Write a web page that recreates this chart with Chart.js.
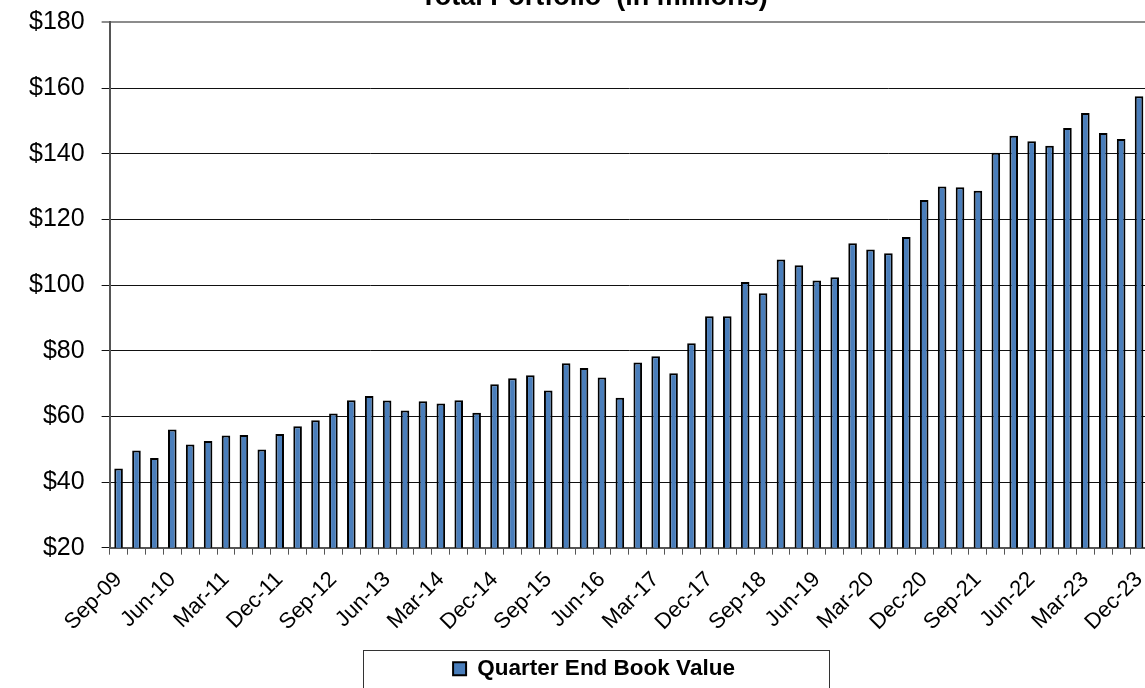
<!DOCTYPE html>
<html>
<head>
<meta charset="utf-8">
<script src="https://cdn.jsdelivr.net/npm/chart.js@4.4.1/dist/chart.umd.min.js"></script>
<style>
  html, body { margin: 0; padding: 0; overflow: hidden; background: #fff; }
  #wrap { position: absolute; left: 0; top: -19px; width: 1190px; height: 742px; }
</style>
</head>
<body>
<div id="wrap"><canvas id="myChart"></canvas></div>
<script>
// quarter labels, Sep-09 .. Dec-23
const months = ["Mar", "Jun", "Sep", "Dec"];
const quarters = [];
for (let y = 2009; y <= 2023; y++) {
	for (let m = 0; m < 4; m++) {
		if (y === 2009 && m < 2) continue;
		quarters.push(months[m] + "-" + String(y).slice(2));
	}
}

// book value at quarter end, $ millions
const bookValue = [
	44.1, 49.6, 47.3, 56.0, 51.4, 52.5, 54.2, 54.3, 49.9, 54.6,
	57.0, 58.8, 60.9, 64.9, 66.2, 64.8, 61.8, 64.6, 63.9, 64.9,
	61.1, 69.8, 71.6, 72.5, 67.9, 76.2, 74.7, 71.8, 65.7, 76.4,
	78.3, 73.1, 82.3, 90.5, 90.5, 100.9, 97.5, 107.8, 106.0, 101.4,
	102.4, 112.7, 110.8, 109.7, 114.6, 125.9, 130.0, 129.8, 128.7, 140.3,
	145.5, 143.8, 142.4, 147.8, 152.4, 146.3, 144.5, 157.5
];

const yTicks = [20, 40, 60, 80, 100, 120, 140, 160, 180];

const fontFamily = "'Liberation Sans', Arial, sans-serif";

// box round the legend, like the spreadsheet one
const legendFrame = {
	id: "legendFrame",
	afterDraw(chart) {
		const box = chart.legend.legendHitBoxes[0];
		if (!box) return;
		const ctx = chart.ctx;
		const cx = box.left + box.width / 2;
		const cy = box.top + box.height / 2;
		ctx.save();
		ctx.strokeStyle = "#333";
		ctx.lineWidth = 1;
		ctx.strokeRect(Math.round(cx - 231) + 0.5, Math.round(cy - 19) + 0.5, 466, 40);
		ctx.restore();
	},
};

new Chart(document.getElementById("myChart"), {
	type: "bar",
	data: {
		labels: quarters,
		datasets: [
			{
				label: "Quarter End Book Value",
				data: bookValue,
				backgroundColor: "#4a7ebb",
				borderColor: "#000",
				borderWidth: 2,
				barPercentage: 0.48,
				categoryPercentage: 1,
			},
		],
	},
	options: {
		responsive: true,
		maintainAspectRatio: false,
		animation: false,
		layout: {
			padding: { left: 12, right: 14, top: 0, bottom: 33 },
		},
		scales: {
			x: {
				grid: {
					display: true,
					drawOnChartArea: false,
					offset: true,
					tickLength: 7,
					color: "#555",
				},
				border: { color: "#555", width: 2 },
				ticks: {
					autoSkip: false,
					maxRotation: 45,
					minRotation: 45,
					padding: 12,
					color: "#000",
					font: { family: fontFamily, size: 22 },
					callback: function (v, i) {
						return i % 3 === 0 ? quarters[i] : "";
					},
				},
			},
			y: {
				min: 20,
				max: 180,
				afterBuildTicks: (axis) => {
					axis.ticks = yTicks.map((v) => ({ value: v }));
				},
				grid: {
					tickLength: 8,
					color: (c) => (c.tick && c.tick.value === 180 ? "#8c8c8c" : "#111"),
					lineWidth: (c) => (c.tick && c.tick.value === 180 ? 2 : 1),
				},
				border: { color: "#555", width: 2 },
				ticks: {
					padding: 17,
					color: "#000",
					font: { family: fontFamily, size: 25 },
					callback: (v) => "$" + v,
				},
			},
			// empty strip on the right (off screen) so title and legend sit where they did
			y2: {
				position: "right",
				grid: { display: false },
				border: { display: false },
				ticks: { display: false },
				afterFit: (axis) => {
					axis.width = 28;
				},
			},
		},
		plugins: {
			title: {
				display: true,
				text: "Total Portfolio  (in millions)",
				color: "#000",
				font: { family: fontFamily, size: 27, weight: "bold" },
				padding: { top: 0, bottom: 9 },
			},
			legend: {
				display: true,
				position: "bottom",
				labels: {
					color: "#000",
					boxWidth: 13,
					boxHeight: 13,
					padding: 10,
					font: { family: fontFamily, size: 22.5, weight: "bold" },
				},
			},
			tooltip: { enabled: false },
		},
	},
	plugins: [legendFrame],
});
</script>
</body>
</html>
